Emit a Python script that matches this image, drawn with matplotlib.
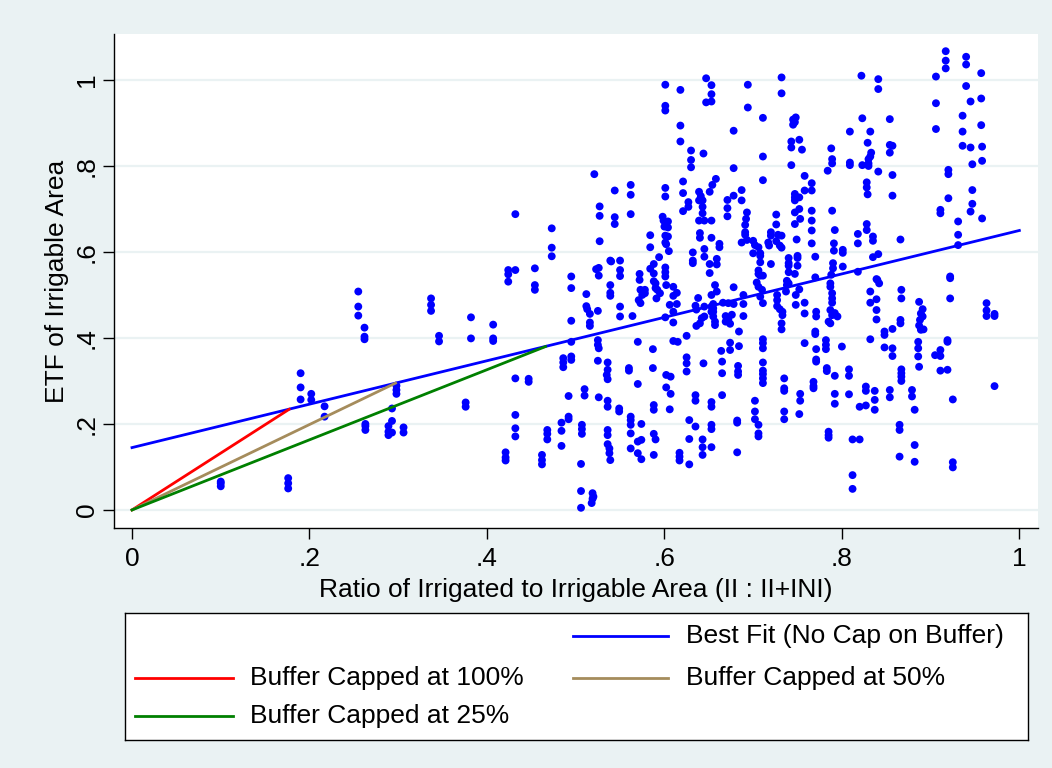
import matplotlib
matplotlib.use("Agg")
import matplotlib.pyplot as plt
from matplotlib.lines import Line2D

plt.rcParams['font.family'] = ['Liberation Sans', 'DejaVu Sans']

# ---- observations: (irrigated ratio, ETF) grouped by ratio range ----
pts_low = [
    (0.100, 0.055), (0.100, 0.062), (0.100, 0.066),
    (0.176, 0.074), (0.176, 0.062), (0.176, 0.050),
    (0.190, 0.318), (0.190, 0.285), (0.190, 0.257),
    (0.202, 0.270), (0.202, 0.256),
    (0.217, 0.241), (0.217, 0.217),
    (0.255, 0.508), (0.255, 0.473), (0.255, 0.452),
    (0.262, 0.424), (0.262, 0.403), (0.262, 0.397), (0.263, 0.200), (0.263, 0.195), (0.263, 0.186),
    (0.289, 0.195), (0.289, 0.182), (0.289, 0.174),
    (0.293, 0.236), (0.293, 0.207), (0.293, 0.180),
    (0.298, 0.289), (0.298, 0.279), (0.298, 0.270),
    (0.306, 0.192), (0.306, 0.180),
    (0.337, 0.492), (0.337, 0.477), (0.337, 0.463),
    (0.346, 0.405), (0.346, 0.392),
    (0.376, 0.250), (0.376, 0.240),
    (0.382, 0.448), (0.382, 0.399),
    (0.407, 0.431), (0.407, 0.399), (0.407, 0.393),
    (0.421, 0.134), (0.421, 0.122), (0.421, 0.115),
    (0.424, 0.558), (0.424, 0.548), (0.424, 0.531),
    (0.432, 0.688), (0.432, 0.558), (0.432, 0.306), (0.432, 0.221), (0.432, 0.190), (0.432, 0.171),
    (0.447, 0.305), (0.447, 0.298),
]

pts_mid_a = [
    (0.454, 0.562), (0.454, 0.523), (0.454, 0.512),
    (0.462, 0.128), (0.462, 0.116), (0.462, 0.106),
    (0.468, 0.186), (0.468, 0.177), (0.468, 0.164),
    (0.473, 0.655), (0.473, 0.610), (0.473, 0.590),
    (0.484, 0.203), (0.484, 0.184), (0.484, 0.149),
    (0.486, 0.353), (0.486, 0.343), (0.486, 0.332),
    (0.492, 0.265), (0.492, 0.217), (0.492, 0.211),
    (0.495, 0.543), (0.495, 0.516), (0.495, 0.440), (0.495, 0.391), (0.495, 0.357), (0.495, 0.349),
    (0.506, 0.107), (0.506, 0.044), (0.506, 0.005),
    (0.507, 0.198), (0.507, 0.188), (0.507, 0.177),
    (0.510, 0.281), (0.510, 0.266),
    (0.512, 0.502), (0.512, 0.474), (0.513, 0.467),
    (0.516, 0.456), (0.516, 0.436), (0.516, 0.428),
    (0.519, 0.039), (0.520, 0.031), (0.519, 0.026), (0.518, 0.016),
    (0.521, 0.781),
    (0.523, 0.560), (0.526, 0.563), (0.526, 0.545),
    (0.525, 0.463), (0.525, 0.395), (0.525, 0.384), (0.526, 0.376), (0.525, 0.347), (0.526, 0.262),
    (0.527, 0.706), (0.527, 0.684), (0.527, 0.625),
    (0.536, 0.304), (0.536, 0.254), (0.536, 0.240), (0.536, 0.186), (0.536, 0.174),
    (0.536, 0.153), (0.538, 0.143), (0.538, 0.132), (0.539, 0.116),
    (0.536, 0.343), (0.536, 0.326), (0.535, 0.314),
    (0.539, 0.580), (0.539, 0.523), (0.539, 0.505), (0.539, 0.498), (0.540, 0.578),
    (0.544, 0.743), (0.544, 0.681), (0.544, 0.665),
    (0.549, 0.236), (0.549, 0.229),
    (0.550, 0.580), (0.550, 0.558), (0.550, 0.544), (0.550, 0.473), (0.550, 0.450),
]

pts_mid_b = [
    (0.601, 0.989), (0.601, 0.940), (0.601, 0.929),
    (0.618, 0.977), (0.618, 0.894), (0.618, 0.857),
    (0.647, 1.004), (0.653, 0.988), (0.653, 0.967), (0.647, 0.948), (0.653, 0.950),
    (0.630, 0.836), (0.630, 0.814), (0.630, 0.797),
    (0.644, 0.829),
    (0.562, 0.756), (0.562, 0.733), (0.562, 0.688),
    (0.601, 0.749), (0.601, 0.729),
    (0.621, 0.764), (0.621, 0.737), (0.621, 0.695),
    (0.627, 0.716), (0.627, 0.705),
    (0.639, 0.740), (0.641, 0.730), (0.643, 0.720), (0.643, 0.705), (0.643, 0.690), (0.639, 0.720),
    (0.651, 0.740), (0.654, 0.756), (0.658, 0.770),
    (0.598, 0.682), (0.599, 0.673), (0.604, 0.671), (0.600, 0.659), (0.604, 0.657),
    (0.601, 0.638), (0.604, 0.636), (0.601, 0.622), (0.602, 0.618), (0.605, 0.602),
    (0.584, 0.639), (0.584, 0.611),
    (0.639, 0.673), (0.645, 0.673), (0.653, 0.673),
    (0.640, 0.644), (0.640, 0.633), (0.653, 0.633),
    (0.645, 0.607), (0.645, 0.589),
    (0.632, 0.599), (0.632, 0.580), (0.632, 0.574),
    (0.572, 0.549), (0.572, 0.535),
    (0.594, 0.588),
    (0.588, 0.572), (0.588, 0.550), (0.588, 0.532),
    (0.584, 0.561),
    (0.601, 0.564), (0.601, 0.553), (0.601, 0.543),
    (0.651, 0.572), (0.651, 0.551),
    (0.573, 0.512), (0.575, 0.500), (0.571, 0.488), (0.573, 0.481),
    (0.564, 0.451),
    (0.578, 0.512), (0.578, 0.504),
    (0.590, 0.527), (0.590, 0.516), (0.592, 0.512), (0.591, 0.492), (0.595, 0.504),
    (0.602, 0.523), (0.610, 0.519), (0.614, 0.505), (0.610, 0.498),
    (0.606, 0.477), (0.614, 0.479), (0.610, 0.461), (0.610, 0.436), (0.601, 0.448),
    (0.635, 0.475), (0.638, 0.493), (0.636, 0.466),
    (0.642, 0.446), (0.640, 0.434), (0.636, 0.428),
    (0.645, 0.473), (0.645, 0.450), (0.653, 0.473), (0.653, 0.461),
    (0.625, 0.405), (0.570, 0.391), (0.587, 0.374), (0.610, 0.393), (0.615, 0.391),
    (0.560, 0.330), (0.560, 0.324),
    (0.587, 0.330),
    (0.602, 0.314), (0.607, 0.310),
    (0.625, 0.355), (0.625, 0.341), (0.625, 0.322),
    (0.644, 0.341),
    (0.570, 0.293),
    (0.602, 0.285), (0.607, 0.270),
    (0.588, 0.244), (0.588, 0.233),
    (0.606, 0.234),
    (0.635, 0.267), (0.635, 0.254),
    (0.653, 0.251), (0.653, 0.240),
    (0.562, 0.217), (0.562, 0.209), (0.562, 0.198), (0.562, 0.178),
    (0.574, 0.200),
    (0.628, 0.209), (0.635, 0.194),
    (0.653, 0.198), (0.653, 0.188),
    (0.588, 0.177), (0.590, 0.164),
    (0.562, 0.143),
    (0.570, 0.159), (0.574, 0.163),
    (0.570, 0.132), (0.574, 0.118),
    (0.588, 0.128),
    (0.617, 0.133), (0.617, 0.124), (0.617, 0.115),
    (0.628, 0.165), (0.628, 0.106),
    (0.643, 0.164), (0.643, 0.146), (0.643, 0.128),
    (0.653, 0.146),
]

pts_mid_c = [
    (0.694, 0.989), (0.694, 0.936),
    (0.732, 1.006), (0.732, 0.969),
    (0.711, 0.912), (0.711, 0.822), (0.711, 0.767),
    (0.678, 0.882), (0.678, 0.795),
    (0.745, 0.908), (0.748, 0.913), (0.747, 0.902), (0.745, 0.896),
    (0.743, 0.857), (0.743, 0.843), (0.752, 0.861), (0.755, 0.838),
    (0.743, 0.802),
    (0.758, 0.777), (0.766, 0.760), (0.758, 0.743), (0.766, 0.743),
    (0.747, 0.735), (0.747, 0.727), (0.752, 0.727), (0.747, 0.720),
    (0.752, 0.700), (0.747, 0.692), (0.753, 0.677), (0.747, 0.665),
    (0.766, 0.696), (0.766, 0.673), (0.766, 0.650),
    (0.749, 0.629), (0.766, 0.620),
    (0.687, 0.744), (0.687, 0.720),
    (0.678, 0.731),
    (0.671, 0.721), (0.671, 0.702), (0.671, 0.683),
    (0.693, 0.692), (0.692, 0.677), (0.691, 0.663),
    (0.691, 0.646), (0.691, 0.640), (0.693, 0.628),
    (0.687, 0.622),
    (0.662, 0.619), (0.662, 0.611),
    (0.700, 0.626), (0.702, 0.616), (0.706, 0.611), (0.700, 0.597), (0.708, 0.597),
    (0.726, 0.687), (0.726, 0.664),
    (0.720, 0.646), (0.720, 0.638), (0.717, 0.622), (0.718, 0.615),
    (0.728, 0.640), (0.732, 0.638), (0.726, 0.625), (0.730, 0.615), (0.732, 0.610),
    (0.659, 0.584), (0.659, 0.571),
    (0.708, 0.591), (0.708, 0.576),
    (0.720, 0.572),
    (0.706, 0.557), (0.706, 0.549), (0.708, 0.545), (0.711, 0.545),
    (0.740, 0.586), (0.740, 0.574), (0.740, 0.568),
    (0.750, 0.591), (0.750, 0.586), (0.750, 0.568),
    (0.770, 0.589),
    (0.740, 0.553), (0.747, 0.549), (0.738, 0.533),
    (0.770, 0.541),
    (0.657, 0.523), (0.659, 0.508), (0.653, 0.500),
    (0.655, 0.479), (0.655, 0.469), (0.655, 0.461), (0.655, 0.450), (0.657, 0.438), (0.657, 0.430),
    (0.666, 0.482), (0.672, 0.481), (0.678, 0.479),
    (0.669, 0.451), (0.672, 0.443), (0.676, 0.454), (0.669, 0.438), (0.674, 0.433),
    (0.678, 0.518),
    (0.689, 0.500), (0.689, 0.479), (0.689, 0.451),
    (0.684, 0.415),
    (0.704, 0.529), (0.706, 0.519), (0.710, 0.512), (0.708, 0.496), (0.711, 0.481),
    (0.727, 0.500), (0.727, 0.488), (0.727, 0.474), (0.730, 0.467), (0.733, 0.461),
    (0.733, 0.453), (0.732, 0.434), (0.732, 0.420),
    (0.738, 0.523), (0.740, 0.527), (0.737, 0.508),
    (0.748, 0.500), (0.748, 0.477),
    (0.752, 0.513),
    (0.758, 0.482), (0.758, 0.457),
    (0.771, 0.461), (0.771, 0.450),
    (0.770, 0.415), (0.770, 0.409),
    (0.758, 0.388),
    (0.771, 0.374), (0.771, 0.350), (0.771, 0.345),
    (0.768, 0.298), (0.768, 0.288), (0.768, 0.283),
    (0.674, 0.389), (0.674, 0.372),
    (0.664, 0.370),
    (0.684, 0.381),
    (0.665, 0.345), (0.665, 0.318),
    (0.683, 0.335), (0.683, 0.322), (0.683, 0.314),
    (0.711, 0.397), (0.711, 0.388), (0.711, 0.376),
    (0.711, 0.343), (0.711, 0.324), (0.711, 0.316), (0.711, 0.306), (0.711, 0.295),
    (0.735, 0.306), (0.735, 0.283), (0.735, 0.277),
    (0.753, 0.270), (0.753, 0.254),
    (0.665, 0.267),
    (0.702, 0.254), (0.702, 0.229), (0.702, 0.211),
    (0.706, 0.198), (0.706, 0.178), (0.706, 0.171),
    (0.735, 0.229), (0.735, 0.211),
    (0.752, 0.223),
    (0.682, 0.208), (0.682, 0.203),
    (0.682, 0.134),
]

pts_high = [
    (0.788, 0.841), (0.789, 0.816), (0.789, 0.806), (0.784, 0.789),
    (0.789, 0.696), (0.792, 0.651), (0.791, 0.620), (0.791, 0.603),
    (0.801, 0.605), (0.801, 0.598),
    (0.790, 0.574), (0.790, 0.562), (0.788, 0.547),
    (0.801, 0.566),
    (0.787, 0.527), (0.787, 0.519), (0.789, 0.504), (0.789, 0.492), (0.789, 0.482),
    (0.787, 0.465), (0.789, 0.453), (0.795, 0.450), (0.785, 0.438), (0.787, 0.434), (0.792, 0.458),
    (0.782, 0.395), (0.782, 0.384), (0.782, 0.374),
    (0.800, 0.380),
    (0.783, 0.330), (0.783, 0.323),
    (0.792, 0.312), (0.792, 0.270), (0.792, 0.247),
    (0.785, 0.182), (0.785, 0.174), (0.785, 0.168),
    (0.808, 0.327), (0.808, 0.312), (0.808, 0.269),
    (0.812, 0.164), (0.820, 0.164),
    (0.812, 0.081), (0.812, 0.049),
    (0.809, 0.880), (0.809, 0.808), (0.809, 0.802),
    (0.822, 1.010), (0.823, 0.911), (0.823, 0.802),
    (0.832, 0.880), (0.829, 0.854), (0.830, 0.816), (0.832, 0.822), (0.833, 0.831),
    (0.830, 0.806), (0.830, 0.800),
    (0.841, 1.002), (0.841, 0.979), (0.841, 0.787),
    (0.828, 0.762), (0.828, 0.750), (0.829, 0.734),
    (0.828, 0.665), (0.828, 0.651),
    (0.818, 0.642), (0.818, 0.620),
    (0.835, 0.636), (0.835, 0.626),
    (0.841, 0.595), (0.835, 0.588),
    (0.818, 0.554),
    (0.839, 0.537),
    (0.854, 0.909), (0.854, 0.849), (0.857, 0.847), (0.854, 0.831),
    (0.857, 0.779), (0.857, 0.731),
    (0.866, 0.629),
    (0.832, 0.508), (0.832, 0.482),
    (0.840, 0.535), (0.842, 0.527),
    (0.839, 0.490), (0.839, 0.465), (0.839, 0.443),
    (0.832, 0.397),
    (0.827, 0.287), (0.827, 0.277),
    (0.837, 0.277), (0.837, 0.256), (0.837, 0.233),
    (0.820, 0.240), (0.827, 0.243),
    (0.848, 0.415), (0.848, 0.407), (0.848, 0.378),
    (0.857, 0.421), (0.857, 0.376), (0.857, 0.358),
    (0.854, 0.279), (0.854, 0.262),
    (0.867, 0.512), (0.867, 0.492),
    (0.866, 0.442), (0.866, 0.434),
    (0.867, 0.327), (0.867, 0.318), (0.867, 0.310), (0.867, 0.300),
    (0.865, 0.198), (0.865, 0.186), (0.865, 0.124),
    (0.879, 0.279), (0.879, 0.264),
    (0.882, 0.233), (0.882, 0.151), (0.882, 0.112),
    (0.887, 0.484), (0.887, 0.429),
    (0.886, 0.391), (0.886, 0.376), (0.886, 0.357), (0.887, 0.333),
    (0.891, 0.467), (0.889, 0.457), (0.891, 0.450), (0.888, 0.442), (0.889, 0.419), (0.892, 0.420),
    (0.905, 0.360), (0.911, 0.358), (0.911, 0.372), (0.911, 0.324),
    (0.919, 0.395), (0.919, 0.391), (0.919, 0.326),
    (0.922, 0.543), (0.922, 0.539), (0.922, 0.492),
    (0.925, 0.257), (0.925, 0.111), (0.925, 0.099),
    (0.906, 1.008), (0.906, 0.946), (0.906, 0.886),
    (0.917, 1.067), (0.917, 1.045), (0.917, 1.027),
    (0.920, 0.791), (0.920, 0.781), (0.920, 0.725),
    (0.911, 0.698), (0.911, 0.690),
    (0.931, 0.671), (0.931, 0.640), (0.931, 0.616),
    (0.940, 1.054), (0.940, 1.036), (0.940, 0.986),
    (0.945, 0.950), (0.936, 0.917), (0.936, 0.880), (0.936, 0.847), (0.945, 0.843),
    (0.947, 0.804), (0.947, 0.744), (0.947, 0.712), (0.945, 0.694),
    (0.957, 1.016), (0.957, 0.957), (0.957, 0.895), (0.958, 0.845), (0.958, 0.812), (0.958, 0.678),
    (0.963, 0.481), (0.963, 0.464), (0.963, 0.451),
    (0.972, 0.456), (0.972, 0.451), (0.972, 0.288),
]

# ---- fitted / capped lines: endpoints (ratio, ETF) ----
best_fit_x = [0.0, 1.0]
best_fit_y = [0.145, 0.650]
cap100_x = [0.0, 0.177]
cap100_y = [0.0, 0.234]
cap50_x = [0.0, 0.297]
cap50_y = [0.0, 0.295]
cap25_x = [0.0, 0.466]
cap25_y = [0.0, 0.380]

xticks = [0, 0.2, 0.4, 0.6, 0.8, 1.0]
xtick_labels = ["0", ".2", ".4", ".6", ".8", "1"]
yticks = [0, 0.2, 0.4, 0.6, 0.8, 1.0]
ytick_labels = ["0", ".2", ".4", ".6", ".8", "1"]

BG = "#eaf2f3"
BLUE = "#0000ff"
RED = "#ff0000"
SAND = "#a58c5c"
GREEN = "#008000"
FS = 19

W, H = 1052, 768
fig = plt.figure(figsize=(W / 100, H / 100), dpi=100, facecolor=BG)


def fig_rect(x0, y0, x1, y1):
    """pixel box (top-left origin) -> figure fraction rect"""
    return [x0 / W, 1 - y1 / H, (x1 - x0) / W, (y1 - y0) / H]


ax = fig.add_axes(fig_rect(114, 34, 1038, 528))
ax.set_facecolor("white")

all_pts = pts_low + pts_mid_a + pts_mid_b + pts_mid_c + pts_high
xs = [p[0] for p in all_pts]
ys = [p[1] for p in all_pts]

for yv in yticks:
    ax.axhline(yv, color=BG, lw=1.6, zorder=0)

ax.scatter(xs, ys, s=32, color=BLUE, edgecolors="none", zorder=3)
ax.plot(best_fit_x, best_fit_y, color=BLUE, lw=2.0, zorder=4)
ax.plot(cap100_x, cap100_y, color=RED, lw=2.0, zorder=4)
ax.plot(cap50_x, cap50_y, color=SAND, lw=2.0, zorder=4)
ax.plot(cap25_x, cap25_y, color=GREEN, lw=2.0, zorder=4)

ax.set_xlim(-0.0203, 1.021)
ax.set_ylim(-0.042, 1.107)

ax.set_xticks(xticks)
ax.set_xticklabels(xtick_labels)
ax.set_yticks(yticks)
ax.set_yticklabels(ytick_labels, rotation=90, va="center")

for side in ("top", "right"):
    ax.spines[side].set_visible(False)
for side in ("left", "bottom"):
    ax.spines[side].set_color("black")
    ax.spines[side].set_linewidth(1.0)

ax.tick_params(axis="both", direction="out", length=8, width=1.0, color="black",
               labelsize=FS)
ax.tick_params(axis="y", pad=3)
ax.tick_params(axis="x", pad=6)
ax.set_xlabel("Ratio of Irrigated to Irrigable Area (II : II+INI)", fontsize=FS, labelpad=5)
ax.set_ylabel("ETF of Irrigable Area", fontsize=FS, labelpad=4)

# ---- legend panel ----
lax = fig.add_axes(fig_rect(125, 613, 1028, 740))
lax.set_facecolor("white")
lax.set_xlim(125, 1028)
lax.set_ylim(740, 613)
lax.set_xticks([])
lax.set_yticks([])
for s in lax.spines.values():
    s.set_color("black")
    s.set_linewidth(1.0)

legend_rows = [
    (573, 668, 686, 636, BLUE, "Best Fit (No Cap on Buffer)"),
    (135, 233, 250, 678, RED, "Buffer Capped at 100%"),
    (573, 668, 686, 678, SAND, "Buffer Capped at 50%"),
    (135, 233, 250, 716, GREEN, "Buffer Capped at 25%"),
]
for hx0, hx1, tx, ty, col, lab in legend_rows:
    lax.add_line(Line2D([hx0, hx1], [ty, ty], color=col, lw=2.0))
    lax.text(tx, ty, lab, fontsize=FS, va="center", ha="left")

fig.savefig("out.png", dpi=100, facecolor=BG)
